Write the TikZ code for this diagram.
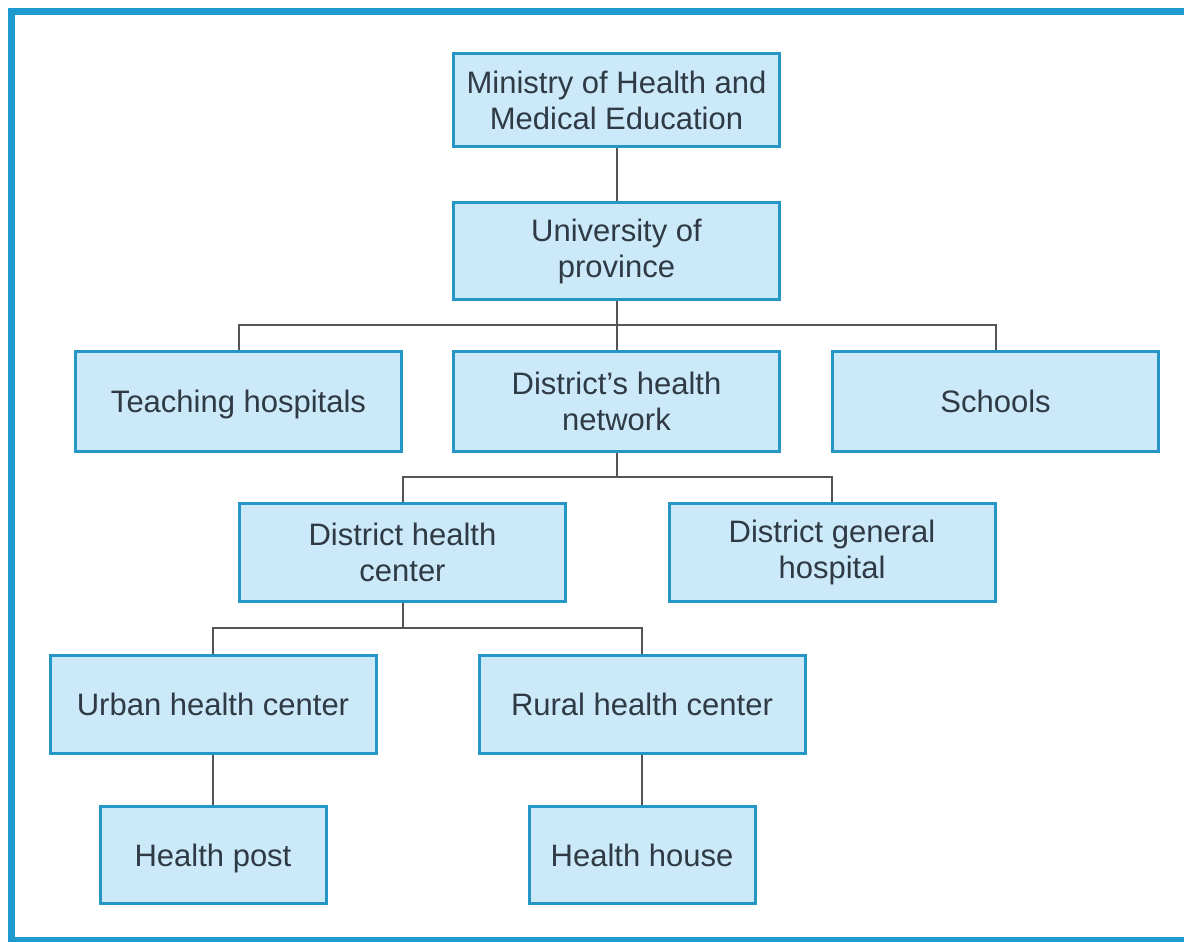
\documentclass[tikz,border=0pt]{standalone}
\usepackage{fontspec}
\setmainfont{Liberation Sans}
\definecolor{boxfill}{HTML}{CBE9F8}
\definecolor{boxline}{HTML}{2596C6}
\definecolor{frameblue}{HTML}{1E9AD0}
\definecolor{txt}{HTML}{2F3A44}
\definecolor{conn}{HTML}{555555}
\begin{document}
\begin{tikzpicture}[x=0.5pt,y=-0.5pt,
  bx/.style={draw=boxline, fill=boxfill, line width=1.5pt, align=center,
    text=txt, inner sep=0pt, font=\fontsize{15.5}{18}\selectfont},
  oneline/.style={text height=11.6pt, text depth=0.4pt},
  wide/.style={bx, minimum width=163pt, minimum height=49pt},
  narrow/.style={bx, oneline, minimum width=113pt, minimum height=48.5pt},
  link/.style={draw=conn, line width=1pt},
  framest/.style={draw=frameblue, line width=3.5pt}]
\useasboundingbox (0,0) rectangle (1184,942);
\fill[white] (0,0) rectangle (1184,942);
\draw[framest] (1184,11) -- (11.5,11) -- (11.5,940) -- (1184,940);

\node[wide, minimum height=46.5pt] (min) at (616.5,100) {Ministry of Health and\\Medical Education};
\node[wide, minimum height=48.5pt] (uni) at (616.5,251) {University of\\province};
\node[wide, oneline, minimum height=50pt] (teach) at (238.5,401.5) {Teaching hospitals};
\node[wide, minimum height=50pt] (net) at (616.5,401.5) {District's health\\network};
\node[wide, oneline, minimum height=50pt] (sch) at (995.5,401.5) {Schools};
\node[wide] (dhc) at (402.5,552.5) {District health\\center};
\node[wide] (dgh) at (832,552.5) {District general\\hospital};
\node[wide, oneline] (urb) at (213,704) {Urban health center};
\node[wide, oneline] (rur) at (642,704) {Rural health center};
\node[narrow] (post) at (213,855) {Health post};
\node[narrow] (house) at (642,855) {Health house};

\coordinate (b1) at (616.5,325);
\coordinate (b2) at (616.5,477);
\coordinate (b3) at (402.5,628);

\draw[link] (min.south) -- (uni.north);
\draw[link] (uni.south) -- (net.north);
\draw[link] (teach.north) |- (b1) -| (sch.north);
\draw[link] (net.south) -- (b2);
\draw[link] (dhc.north) |- (b2) -| (dgh.north);
\draw[link] (dhc.south) -- (b3);
\draw[link] (urb.north) |- (b3) -| (rur.north);
\draw[link] (urb.south) -- (post.north);
\draw[link] (rur.south) -- (house.north);
\end{tikzpicture}
\end{document}
